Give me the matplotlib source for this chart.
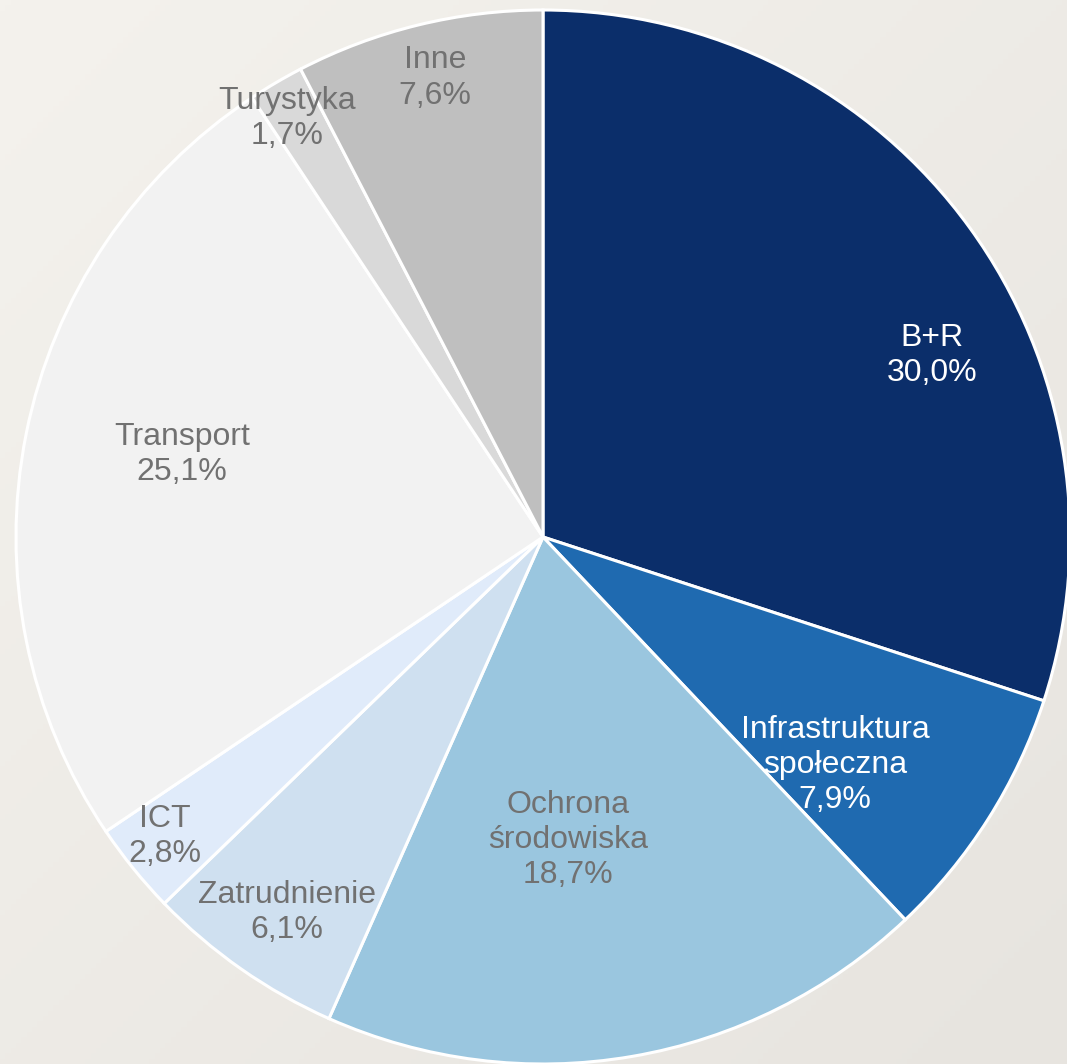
import numpy as np
import matplotlib.pyplot as plt
from matplotlib.colors import LinearSegmentedColormap

# data
categories = ["B+R", "Infrastruktura\nspołeczna", "Ochrona\nśrodowiska", "Zatrudnienie",
              "ICT", "Transport", "Turystyka", "Inne"]
shares = [30.0, 7.9, 18.7, 6.1, 2.8, 25.1, 1.7, 7.6]

colors = ["#0B2E6A", "#1F6AB0", "#9AC6DF", "#CFE0F0", "#E0EBFA", "#F2F2F2", "#D9D9D9", "#BFBFBF"]
text_colors = ["white", "white", "#717171", "#717171", "#717171", "#717171", "#717171", "#717171"]
# label anchor points (Excel "best fit")
label_pos = [(0.738, 0.345), (0.554, -0.433), (0.047, -0.575), (-0.486, -0.713),
             (-0.717, -0.569), (-0.685, 0.156), (-0.486, 0.795), (-0.205, 0.871)]

fig = plt.figure(figsize=(10.67, 10.64), dpi=100)

# textured paper-like background as a soft gradient
bg = fig.add_axes([0, 0, 1, 1], zorder=0)
gx, gy = np.meshgrid(np.linspace(0, 1, 200), np.linspace(0, 1, 200))
grad = (gx + gy) / 2
cmap = LinearSegmentedColormap.from_list("paper", ["#F4F2ED", "#E7E4DF"])
bg.imshow(grad, cmap=cmap, aspect="auto", extent=[0, 1, 1, 0])
bg.axis("off")

ax = fig.add_axes([0, 0, 1, 1], zorder=1)
ax.patch.set_alpha(0)
ax.pie(shares, colors=colors, startangle=90, counterclock=False, radius=1,
       wedgeprops=dict(edgecolor="white", linewidth=2.2))

for cat, val, (x, y), tc in zip(categories, shares, label_pos, text_colors):
    txt = cat + "\n" + f"{val:.1f}".replace(".", ",") + "%"
    ax.text(x, y, txt, ha="center", va="center", fontsize=23, color=tc,
            family="Liberation Sans", linespacing=1.22)

ax.set_xlim(-543 / 527, (1067 - 543) / 527)
ax.set_ylim(-(1064 - 537) / 527, 537 / 527)
ax.set_aspect("auto")
ax.axis("off")

fig.savefig("out.png", dpi=100)
